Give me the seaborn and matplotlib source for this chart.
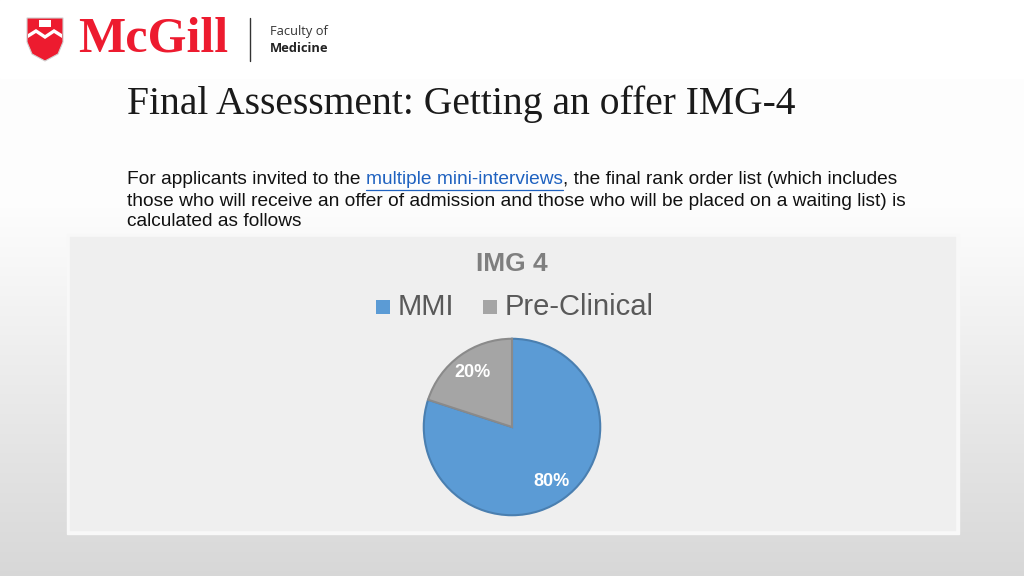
import numpy as np
import matplotlib
matplotlib.use('Agg')
import matplotlib.pyplot as plt
import seaborn as sns
from matplotlib.patches import Rectangle, Polygon

sns.set_theme(style='white')
plt.rcParams['font.family'] = ['Liberation Sans', 'DejaVu Sans']

# data
labels = ['MMI', 'Pre-Clinical']
shares = [80, 20]
colors = ['#5B9BD5', '#A5A5A5']
edges = ['#4A7FB0', '#8A8A8A']
chart_title = 'IMG 4'

W, H = 1024, 576
fig = plt.figure(figsize=(W / 100, H / 100), dpi=100)

# background layer in pixel coords
bg = fig.add_axes([0, 0, 1, 1])
bg.set_xlim(0, W)
bg.set_ylim(H, 0)
bg.axis('off')
grad = np.ones((H, 1))
ys = np.arange(H)
grad[:, 0] = np.where(ys < 200, 0.995, 0.995 - (ys - 200) / (H - 200) * 0.15)
bg.imshow(np.dstack([grad] * 3), extent=[0, W, H, 0], aspect='auto', zorder=0)
bg.add_patch(Rectangle((0, 0), W, 78, color='white', zorder=1))

# chart panel
bg.add_patch(Rectangle((67, 234), 892, 300, color='#f8f8f8', zorder=1))
bg.add_patch(Rectangle((70, 237), 885, 293, color='#efefef', zorder=2))

# logo
shield = Polygon([(27, 18), (63, 18), (63, 42), (58, 54), (45, 61), (32, 54), (27, 42)],
                 closed=True, fc='#ED1B2F', ec='#d0d0d0', lw=0.8, zorder=3)
bg.add_patch(shield)
bg.add_patch(Polygon([(28, 34), (36, 29), (45, 35), (54, 29), (62, 34), (62, 38), (54, 33),
                      (45, 39), (36, 33), (28, 38)], closed=True, fc='white', ec='none', zorder=4))
bg.add_patch(Rectangle((39, 20), 12, 7, fc='white', ec='none', zorder=4))
bg.text(78, 40, 'McGill', fontsize=36, color='#ED1B2F', family=['Liberation Serif'],
        fontweight='bold', va='center', ha='left', zorder=5)
bg.plot([250, 250], [18, 61], color='#333333', lw=1, zorder=5)
bg.text(270, 32, 'Faculty of', fontsize=9.3, color='#333333', va='center', ha='left',
        family=['Open Sans', 'DejaVu Sans'], zorder=5)
bg.text(270, 48, 'Medicine', fontsize=9.3, color='#222222', fontweight='bold', va='center',
        ha='left', family=['Open Sans', 'DejaVu Sans'], zorder=5)

# slide title
bg.text(127, 104, 'Final Assessment: Getting an offer IMG-4', fontsize=28.5, color='#1a1a1a',
        family=['Liberation Serif'], va='center', ha='left', zorder=5)

# paragraph with link
fig.canvas.draw()
r = fig.canvas.get_renderer()
fs = 13.8
t1 = bg.text(127, 180, 'For applicants invited to the ', fontsize=fs, color='#111111',
             va='center', ha='left', zorder=5)
w1 = t1.get_window_extent(renderer=r).width
t2 = bg.text(127 + w1, 180, 'multiple mini-interviews', fontsize=fs, color='#1F62C0',
             va='center', ha='left', zorder=5)
w2 = t2.get_window_extent(renderer=r).width
bg.plot([127 + w1, 127 + w1 + w2], [190, 190], color='#1F62C0', lw=0.9, zorder=5)
bg.text(127 + w1 + w2, 180, ', the final rank order list (which includes', fontsize=fs,
        color='#111111', va='center', ha='left', zorder=5)
bg.text(127, 201, 'those who will receive an offer of admission and those who will be placed on a waiting list) is',
        fontsize=fs, color='#111111', va='center', ha='left', zorder=5)
bg.text(127, 222, 'calculated as follows', fontsize=fs, color='#111111', va='center', ha='left', zorder=5)

# chart title and legend
bg.text(512, 264, chart_title, fontsize=19, color='#7f7f7f', fontweight='bold',
        va='center', ha='center', zorder=5)
leg_x = [376, 483]
for lx, lab, c in zip(leg_x, labels, colors):
    bg.add_patch(Rectangle((lx, 300), 14, 14, fc=c, ec='none', zorder=5))
    bg.text(lx + 22, 307, lab, fontsize=21, color='#595959', va='center', ha='left', zorder=5)

# pie
cx, cy, rad = 512, 427, 90
ax = fig.add_axes([(cx - rad) / W, (H - cy - rad) / H, 2 * rad / W, 2 * rad / H])
wedges, texts, autotexts = ax.pie(shares, colors=colors, startangle=90, counterclock=False,
                                  autopct='%d%%', pctdistance=0.77,
                                  wedgeprops=dict(linewidth=1.5, edgecolor='#cfd8e0'),
                                  textprops=dict(color='white', fontsize=13, fontweight='bold'))
for wdg, ec in zip(wedges, edges):
    wdg.set_edgecolor(ec)
ax.set_xlim(-1.02, 1.02)
ax.set_ylim(-1.02, 1.02)
ax.set_aspect('equal')
ax.axis('off')

fig.savefig('out.png', dpi=100)
